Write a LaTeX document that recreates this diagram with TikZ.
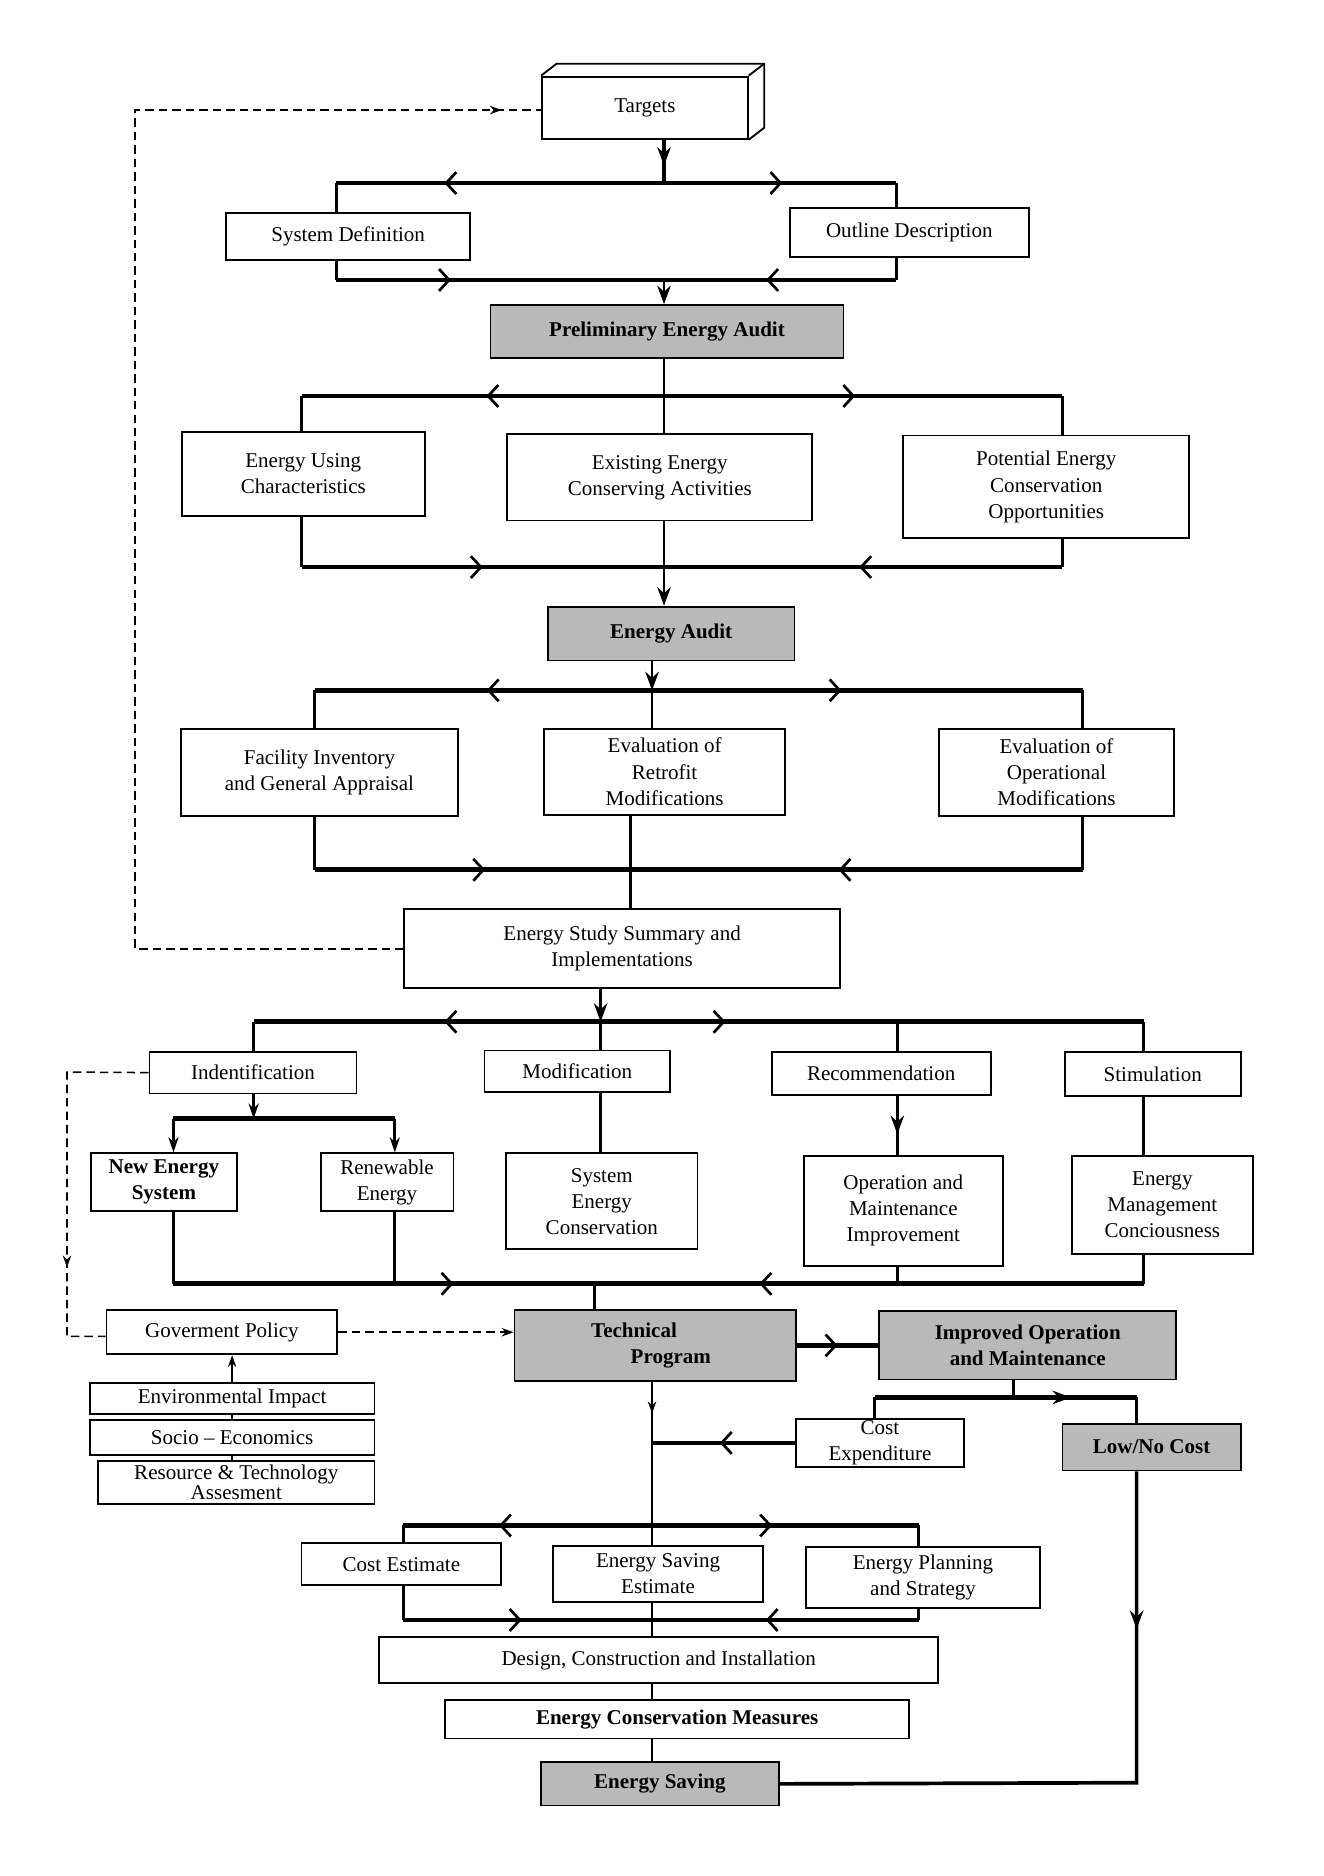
\documentclass[tikz,border=0pt]{standalone}
\usepackage{fontspec}
\setmainfont{Liberation Serif}
\usetikzlibrary{arrows.meta,decorations.markings}

\tikzset{
  box/.style={draw, line width=1.1pt, fill=white, align=center, inner sep=0pt},
  shbox/.style={box, fill=gray!55, font=\fontsize{12.5}{15.5}\selectfont\bfseries},
  wh/.style 2 args={minimum width=#1*0.025cm, minimum height=#2*0.025cm},
  bus/.style={line width=2.8pt},
  link/.style={line width=1.7pt},
  fb/.style={line width=0.9pt, dash pattern=on 5pt off 3pt},
  barb/.style={postaction={decorate,decoration={markings,mark=at position #1 with {\arrow{Straight Barb[length=6pt,width=13pt,line width=1.6pt]}}}}},
  darr/.style={postaction={decorate,decoration={markings,mark=at position #1 with {\arrow{Stealth[length=11pt,width=8pt]}}}}},
  sarr/.style={postaction={decorate,decoration={markings,mark=at position #1 with {\arrow{Stealth[length=7pt,width=5pt]}}}}},
}

\begin{document}
\begin{tikzpicture}[x=0.025cm, y=-0.025cm, font=\fontsize{12.5}{15.5}\selectfont]
  \useasboundingbox (0,0) rectangle (1106,1568);

  \node[box, wh={172}{52}] (tgt) at (539,90) {Targets};
  \draw[line width=1.1pt] (tgt.north west) -- ++(13,-10) -| ([shift={(13,-10)}]tgt.south east) -- (tgt.south east);
  \draw[line width=1.1pt] (tgt.north east) -- ++(13,-10);

  \node[box, wh={204}{39}] (sd) at (291,197.5) {System Definition};
  \node[box, wh={200}{41}] (od) at (760,194.5) {Outline Description};
  \node[shbox, wh={295}{44}] (pea) at (557.5,277) {Preliminary Energy Audit};

  \node[box, wh={203}{70}] (euc) at (253.5,396) {Energy Using\\Characteristics};
  \node[box, wh={255}{72}] (eeca) at (551.5,399) {Existing Energy\\Conserving Activities};
  \node[box, wh={239}{86}] (peco) at (874.5,407) {Potential Energy\\Conservation\\Opportunities};
  \node[shbox, wh={206}{45}] (ea) at (561,529.5) {Energy Audit};

  \node[box, wh={232}{73}] (figa) at (267,645.5) {Facility Inventory\\and General Appraisal};
  \node[box, wh={201}{72}] (erm) at (555.5,645) {Evaluation of\\Retrofit\\Modifications};
  \node[box, wh={196}{73}] (eom) at (883,645.5) {Evaluation of\\Operational\\Modifications};
  \node[box, wh={364}{66}] (essi) at (520,793) {Energy Study Summary and\\Implementations};

  \node[box, wh={173}{35}] (ident) at (211.5,896.5) {Indentification};
  \node[box, wh={155}{35}] (modi) at (482.5,895.5) {Modification};
  \node[box, wh={183}{36}] (recom) at (736.5,897) {Recommendation};
  \node[box, wh={147}{37}] (stim) at (963.5,897.5) {Stimulation};

  \node[box, wh={122}{48}, font=\fontsize{12.5}{15.5}\selectfont\bfseries] (nes) at (137,988) {New Energy\\System};
  \node[box, wh={111}{48}] (ren) at (323.5,988) {Renewable\\Energy};
  \node[box, wh={160}{80}] (sec) at (503,1004) {System\\Energy\\Conservation};
  \node[box, wh={166}{92}] (omi) at (755,1012) {Operation and\\Maintenance\\Improvement};
  \node[box, wh={151}{82}] (emc) at (971.5,1007) {Energy\\Management\\Conciousness};

  \node[box, wh={193}{37}] (gp) at (185.5,1113.5) {Goverment Policy};
  \node[shbox, wh={235}{59}] (tp) at (547.5,1124.5) {Technical\hspace*{2em}\\\hspace*{1.5em}Program};
  \node[shbox, wh={248}{57}] (iom) at (859,1124.5) {Improved Operation\\and Maintenance};
  \node[box, wh={238}{26}] (envi) at (194,1169) {Environmental Impact};
  \node[box, wh={238}{29}] (socio) at (194,1201.5) {Socio -- Economics};
  \node[box, wh={231}{36}, font=\fontsize{12.5}{10.5}\selectfont] (rta) at (197.5,1239) {Resource \& Technology\\Assesment};
  \node[box, wh={141}{40}] (ce) at (735.5,1206) {Cost\\Expenditure};
  \node[shbox, wh={149}{39}] (lnc) at (962.5,1209.5) {Low/No Cost};

  \node[box, wh={167}{35}] (cest) at (335.5,1307.5) {Cost Estimate};
  \node[box, wh={176}{47}] (ese) at (550,1315.5) {Energy Saving\\Estimate};
  \node[box, wh={195}{51}] (eps) at (771.5,1318.5) {Energy Planning\\and Strategy};
  \node[box, wh={467}{39}] (dci) at (550.5,1387.5) {Design, Construction and Installation};
  \node[box, wh={388}{32}, font=\fontsize{12.5}{15.5}\selectfont\bfseries] (ecm) at (566,1437) {Energy Conservation Measures};
  \node[shbox, wh={199}{36}] (es) at (551.5,1491) {Energy Saving};

  \coordinate (j1) at (555,153);  \coordinate (b1l) at (281,153);  \coordinate (b1r) at (749,153);
  \coordinate (j2) at (555,234);  \coordinate (b2l) at (281,234);  \coordinate (b2r) at (749,234);
  \coordinate (j3) at (555,331);  \coordinate (b3l) at (252,331);  \coordinate (b3r) at (888,331);
  \coordinate (j4) at (555,474);  \coordinate (b4l) at (252,474);  \coordinate (b4r) at (888,474);
  \coordinate (j5) at (545,577);  \coordinate (b5l) at (263,577);  \coordinate (b5r) at (905,577);
  \coordinate (j6) at (527,727);  \coordinate (b6l) at (263,727);  \coordinate (b6r) at (905,727);
  \coordinate (j7) at (502,854);  \coordinate (b7l) at (212,854);  \coordinate (b7m) at (750,854);  \coordinate (b7r) at (956,854);
  \coordinate (j8) at (212,935);  \coordinate (b8l) at (145,935);  \coordinate (b8r) at (330,935);
  \coordinate (j9) at (497,1073); \coordinate (b9l) at (145,1073); \coordinate (b9a) at (330,1073);
  \coordinate (b9b) at (750,1073); \coordinate (b9r) at (956,1073);
  \coordinate (j11) at (545,1275); \coordinate (b10l) at (337,1275); \coordinate (b10r) at (768,1275);
  \coordinate (j13) at (545,1354); \coordinate (b11l) at (337,1354); \coordinate (b11r) at (768,1354);
  \coordinate (c1) at (731,1168); \coordinate (j12) at (847,1168); \coordinate (c2) at (950,1168);
  \coordinate (c3) at (950,1490);
  \coordinate (f1) at (113,793);  \coordinate (f2) at (113,92);
  \coordinate (f3) at (56,896);   \coordinate (f4) at (56,1117);

  \draw[bus, darr=0.6] (tgt.south -| j1) -- (j1);
  \draw[bus, barb=0.67] (j1) -- (b1l);
  \draw[bus, barb=0.51] (j1) -- (b1r);
  \draw[link] (b1l) -- (sd.north -| b1l);
  \draw[link] (b1r) -- (od.north -| b1r);
  \draw[link] (sd.south -| b2l) -- (b2l);
  \draw[link] (od.south -| b2r) -- (b2r);
  \draw[bus, barb=0.35] (b2l) -- (j2);
  \draw[bus, barb=0.56] (b2r) -- (j2);
  \draw[link, -{Stealth[length=11pt,width=8pt]}] (j2) -- (pea.north -| j2);

  \draw[link] (pea.south -| j3) -- (j3);
  \draw[bus, barb=0.49] (j3) -- (b3l);
  \draw[bus, barb=0.48] (j3) -- (b3r);
  \draw[link] (b3l) -- (euc.north -| b3l);
  \draw[link] (j3) -- (eeca.north -| j3);
  \draw[link] (b3r) -- (peco.north -| b3r);
  \draw[link] (euc.south -| b4l) -- (b4l);
  \draw[link] (peco.south -| b4r) -- (b4r);
  \draw[link] (eeca.south -| j4) -- (j4);
  \draw[bus, barb=0.5] (b4l) -- (j4);
  \draw[bus, barb=0.51] (b4r) -- (j4);
  \draw[link, -{Stealth[length=11pt,width=8pt]}] (j4) -- (ea.north -| j4);

  \draw[link, -{Stealth[length=11pt,width=8pt]}] (ea.south -| j5) -- (j5);
  \draw[bus, barb=0.49] (j5) -- (b5l);
  \draw[bus, barb=0.44] (j5) -- (b5r);
  \draw[link] (b5l) -- (figa.north -| b5l);
  \draw[link] (j5) -- (erm.north -| j5);
  \draw[link] (b5r) -- (eom.north -| b5r);
  \draw[link] (figa.south -| b6l) -- (b6l);
  \draw[link] (eom.south -| b6r) -- (b6r);
  \draw[bus, barb=0.54] (b6l) -- (j6);
  \draw[bus, barb=0.54] (b6r) -- (j6);
  \draw[link] (erm.south -| j6) -- (essi.north -| j6);

  \draw[fb, sarr=0.974] (essi.west) -- (f1) -- (f2) -- (tgt.west |- f2);

  \draw[link, -{Stealth[length=11pt,width=8pt]}] (essi.south -| j7) -- (j7);
  \draw[bus, barb=0.45] (j7) -- (b7l);
  \draw[bus, barb=0.23] (j7) -- (b7r);
  \draw[link] (b7l) -- (ident.north -| b7l);
  \draw[link] (j7) -- (modi.north -| j7);
  \draw[link] (b7m) -- (recom.north -| b7m);
  \draw[link] (b7r) -- (stim.north -| b7r);

  \draw[link, -{Stealth[length=9pt,width=6pt]}] (ident.south -| j8) -- (j8);
  \draw[bus] (b8l) -- (b8r);
  \draw[link, -{Stealth[length=9pt,width=6pt]}] (b8l) -- (nes.north -| b8l);
  \draw[link, -{Stealth[length=9pt,width=6pt]}] (b8r) -- (ren.north -| b8r);
  \draw[link] (modi.south -| j7) -- (sec.north -| j7);
  \draw[link, darr=0.65] (recom.south -| b7m) -- (omi.north -| b7m);
  \draw[link] (stim.south -| b7r) -- (emc.north -| b7r);

  \draw[link] (nes.south -| b9l) -- (b9l);
  \draw[link] (ren.south -| b9a) -- (b9a);
  \draw[link] (omi.south -| b9b) -- (b9b);
  \draw[link] (emc.south -| b9r) -- (b9r);
  \draw[bus, barb=0.665] (b9l) -- (j9);
  \draw[bus, barb=0.70] (b9r) -- (j9);
  \draw[link] (j9) -- (tp.north -| j9);

  \draw[fb, sarr=0.72] (ident.west) -- (f3) -- (f4) -- (gp.west |- f4);
  \draw[fb, -{Stealth[length=7pt,width=5pt]}] (gp.east) -- (gp.east -| tp.west);
  \draw[line width=0.9pt, -{Stealth[length=7pt,width=5pt]}] (envi.north) -- (envi.north |- gp.south);
  \draw[line width=0.9pt] (envi.south) -- (socio.north);
  \draw[line width=0.9pt] (socio.south) -- (socio.south |- rta.north);

  \draw[bus, barb=0.5] (tp.east) -- (iom.west);
  \draw[link, sarr=0.22] (tp.south -| j11) -- (j11);
  \draw[bus, barb=0.525] (ce.west) -- (ce.west -| j11);
  \draw[link] (iom.south -| j12) -- (j12);
  \draw[link] (ce.north -| c1) -- (c1);
  \draw[bus, darr=0.75] (c1) -- (c2);
  \draw[link] (c2) -- (lnc.north -| c2);
  \draw[line width=2.2pt, darr=0.236] (lnc.south -| c3) -- (c3) -- (es.east);

  \draw[bus, barb=0.615] (j11) -- (b10l);
  \draw[bus, barb=0.45] (j11) -- (b10r);
  \draw[link] (b10l) -- (cest.north -| b10l);
  \draw[link] (j11) -- (ese.north -| j11);
  \draw[link] (b10r) -- (eps.north -| b10r);
  \draw[link] (cest.south -| b11l) -- (b11l);
  \draw[link] (eps.south -| b11r) -- (b11r);
  \draw[bus, barb=0.476] (b11l) -- (j13);
  \draw[bus, barb=0.574] (b11r) -- (j13);
  \draw[link] (ese.south -| j13) -- (dci.north -| j13);
  \draw[link] (dci.south -| j13) -- (ecm.north -| j13);
  \draw[link] (ecm.south -| j13) -- (es.north -| j13);
\end{tikzpicture}
\end{document}
